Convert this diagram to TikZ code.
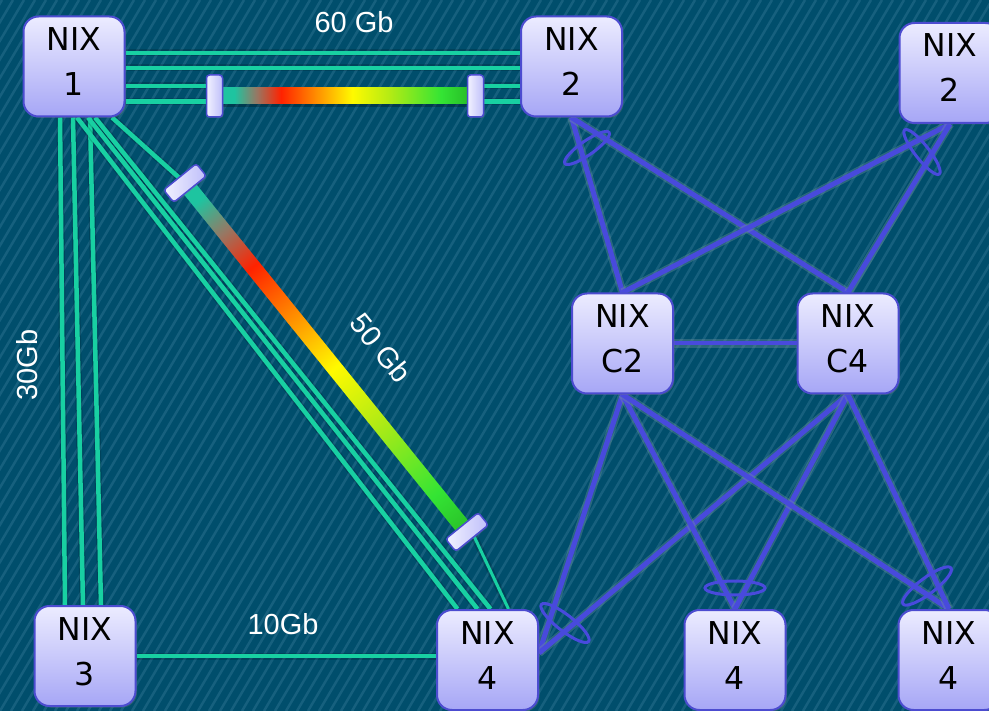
\documentclass[tikz,border=0pt]{standalone}
\usepackage{fontspec}
\setmainfont{DejaVu Sans}
\newfontfamily\lblfont{Liberation Sans}
\usetikzlibrary{calc,shadows}
\pgfdeclarelayer{back}
\pgfsetlayers{back,main}
\definecolor{bgc}{RGB}{0,78,108}
\definecolor{stripec}{RGB}{22,96,126}
\definecolor{gl}{RGB}{24,208,162}
\definecolor{bl}{RGB}{72,74,220}
\definecolor{glow}{RGB}{120,150,160}
\definecolor{nixtop}{RGB}{236,236,255}
\definecolor{nixbot}{RGB}{166,166,246}
\definecolor{nixborder}{RGB}{76,76,208}
\definecolor{captop}{RGB}{242,242,255}
\definecolor{capbot}{RGB}{190,190,250}
\definecolor{bt0}{RGB}{30,196,160}
\definecolor{bt1}{RGB}{150,120,100}
\definecolor{bt2}{RGB}{255,34,0}
\definecolor{bt3}{RGB}{255,140,0}
\definecolor{bt4}{RGB}{255,250,0}
\definecolor{bt5}{RGB}{180,235,20}
\definecolor{bt6}{RGB}{52,228,52}
\definecolor{bt7}{RGB}{40,190,40}
\pgfdeclarehorizontalshading{barshade}{100bp}{color(0bp)=(bt0); color(25bp)=(bt0); color(27.5bp)=(bt0); color(32bp)=(bt1); color(37bp)=(bt2); color(44bp)=(bt3); color(51.5bp)=(bt4); color(59bp)=(bt5); color(69.5bp)=(bt6); color(75bp)=(bt7); color(100bp)=(bt7)}
\tikzset{
  nix/.style={draw=nixborder, line width=2pt, rounded corners=15pt,
    minimum width=101pt, minimum height=100pt, inner sep=0pt,
    top color=nixtop, bottom color=nixbot,
    drop shadow={opacity=0.35, shadow xshift=1.5pt, shadow yshift=-1.5pt}},
  nixt/.style={font=\fontsize{31.5}{31.5}\selectfont, inner sep=0pt, text height=23pt, text depth=0pt},
  capbox/.style={draw=nixborder, line width=1.5pt, rounded corners=3pt, inner sep=0pt,
    left color=captop, right color=capbot,
    drop shadow={opacity=0.3, shadow xshift=1pt, shadow yshift=-1pt}},
  gline/.style={draw=gl, line width=4.5pt, preaction={draw=black, opacity=0.15, line width=7pt}},
  bline/.style={draw=bl, line width=5pt, preaction={draw=glow, opacity=0.35, line width=8.5pt}},
  ell/.style={draw=bl, line width=3pt},
  stripe/.style={draw=stripec, line width=2.5pt},
  lbl/.style={font=\lblfont\fontsize{29}{29}\selectfont, text=white, inner sep=0pt}
}
\newcommand\nixbox[4]{%
  \node[nix] (#1) at (#2,#3) {};
  \node[nixt] (#1-a) at ($(#1.center)+(0,-27.5)$) {NIX};
  \node[nixt] (#1-b) at ($(#1.center)+(0,17.5)$) {#4};
}
\begin{document}
\begin{tikzpicture}[x=1pt,y=-1pt]
\useasboundingbox (0,0) rectangle (989,711);
\clip (0,0) rectangle (989,711);
% ---- nodes ----
\nixbox{n1}{74}{66.5}{1}
\nixbox{n2}{571.5}{66.5}{2}
\nixbox{n2r}{950}{73}{2}
\nixbox{c2}{622.5}{343.5}{C2}
\nixbox{c4}{848}{343.5}{C4}
\nixbox{n3}{85}{656}{3}
\nixbox{n4a}{487.5}{660}{4}
\nixbox{n4b}{735}{660}{4}
\nixbox{n4c}{949}{660}{4}
% ---- caps of the bars ----
\node[capbox, minimum width=16pt, minimum height=42pt] (cL) at (214.5,96) {};
\node[capbox, minimum width=16pt, minimum height=42pt] (cR) at (475.5,96) {};
\node[capbox, minimum width=42pt, minimum height=16pt, rotate=39] (cT) at (185,183) {};
\node[capbox, minimum width=42pt, minimum height=16pt, rotate=39] (cB) at (467,532) {};
\coordinate (p4a) at ($(n4a.east)+(0,-7)$);
\coordinate (cBo) at ($(cB)+(5,0)$);
% ---- labels ----
\node[lbl] (l60) at (354,22) {60 Gb};
\node[lbl] (l10) at (283,624) {10Gb};
\node[lbl, rotate=90] (l30) at (27,365) {30Gb};
\node[lbl, rotate=-51] (l50) at (381,348) {50 Gb};
\begin{pgfonlayer}{back}
\begin{scope}
\clip (0,0) rectangle (989,711);
\fill[bgc] (0,0) rectangle (989,711);
\foreach \i in {-40,...,92} { \draw[stripe] (\i*11,711) -- ++(420,-711); }
% green links NIX1 - NIX2
\draw[gline] ($(n1.east)+(0,-13.5)$) -- ($(n2.west)+(0,-13.5)$);
\draw[gline] ($(n1.east)+(0,1.5)$) -- ($(n2.west)+(0,1.5)$);
\draw[gline] ($(n1.east)+(0,19.5)$) -- ($(cL.west)+(0,-10)$);
\draw[gline] ($(n1.east)+(0,35)$) -- ($(cL.west)+(0,5.5)$);
\draw[gline] ($(cR.east)+(0,-10)$) -- ($(n2.west)+(0,19.5)$);
\draw[gline] ($(cR.east)+(0,5.5)$) -- ($(n2.west)+(0,35)$);
% green links NIX1 - NIX3
\draw[gline] ($(n1.south)+(-14,0)$) -- ($(n3.north)+(-20,0)$);
\draw[gline] ($(n1.south)+(-1,0)$) -- ($(n3.north)+(-2,0)$);
\draw[gline] ($(n1.south)+(16,0)$) -- ($(n3.north)+(16,0)$);
% green links NIX1 - NIX4
\draw[gline] ($(n1.south)+(3,0)$) -- ($(n4a.north)+(-30,0)$);
\draw[gline] ($(n1.south)+(14,0)$) -- ($(n4a.north)+(-10,0)$);
\draw[gline] ($(n1.south)+(21,0)$) -- ($(n4a.north)+(3,0)$);
\draw[gline] ($(n1.south)+(38,0)$) -- (cT.center);
\draw[gline, line width=3pt] (cBo) -- ($(n4a.north)+(21,0)$);
% NIX3 - NIX4
\draw[gline, line width=3.5pt] (n3.east) -- (n3.east -| n4a.west);
% gradient bars
\fill[black, opacity=0.25] (223,91) rectangle (469,107);
\shade[shading=barshade] (222,88) rectangle (468,104);
\begin{scope}[transform canvas={shift={(185,183)}, rotate=-51.06}]
\shade[shading=barshade] (0,-8) rectangle (449,8);
\end{scope}
% blue links
\draw[bline] (n2.south) -- (c2.north);
\draw[bline] (n2.south) -- (c4.north);
\draw[bline] (n2r.south) -- (c2.north);
\draw[bline] (n2r.south) -- (c4.north);
\draw[bline, line width=4pt] (c2.east) -- (c4.west);
\draw[bline] (c2.south) -- (p4a);
\draw[bline] (c4.south) -- (p4a);
\draw[bline] (c2.south) -- (n4b.north);
\draw[bline] (c4.south) -- (n4b.north);
\draw[bline] (c2.south) -- (n4c.north);
\draw[bline] (c4.south) -- (n4c.north);
% ellipses
\draw[ell, rotate around={35:(587,148)}] (587,148) ellipse [x radius=27, y radius=7];
\draw[ell, rotate around={-52:(922,152)}] (922,152) ellipse [x radius=28, y radius=7];
\draw[ell, rotate around={-38:(565,623)}] (565,623) ellipse [x radius=30, y radius=8];
\draw[ell] (735,588) ellipse [x radius=30, y radius=7];
\draw[ell, rotate around={37:(927,586)}] (927,586) ellipse [x radius=30, y radius=8];
\end{scope}
\end{pgfonlayer}
\end{tikzpicture}
\end{document}
